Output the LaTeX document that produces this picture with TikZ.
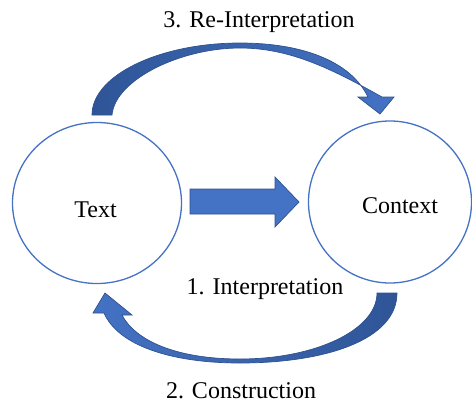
\documentclass[tikz,border=0pt]{standalone}
\usepackage{fontspec}
\setmainfont{Liberation Serif}
\usetikzlibrary{shapes.geometric}
\definecolor{ringblue}{HTML}{4472C4}
\definecolor{edgeblue}{HTML}{2F528F}
\definecolor{arrdark}{HTML}{2F5597}
\definecolor{arrlight}{HTML}{4472C4}
\begin{document}
\begin{tikzpicture}[x=1pt,y=-1pt,
  ring/.style={ellipse, draw=ringblue, line width=1.3pt, inner sep=0pt},
  lbl/.style={inner sep=0pt, anchor=base, font=\fontsize{24}{28}\selectfont},
  blockarrow/.style={draw=edgeblue, line width=0.7pt, line join=miter}]
\useasboundingbox (0,0) rectangle (472,405);

% circles
\node[ring, minimum width=169pt, minimum height=161pt] (text) at (97,203) {};
\node[ring, minimum width=163pt, minimum height=162pt] (context) at (390,202) {};

% labels
\node[lbl] (ltext) at (95.5,217) {Text};
\node[lbl] (lcontext) at (400,213) {Context};
\node[lbl] (l3) at (259,27) {3. Re-Interpretation};
\node[lbl] (l1) at (265,294) {1. Interpretation};
\node[lbl] (l2) at (241,398) {2. Construction};

% straight block arrow
\fill[blockarrow, fill=arrlight]
  (190,189) -- (275,189) -- (275,177) -- (299,202) -- (275,227) -- (275,214) -- (190,214) -- cycle;

% top curved arrow
\shadedraw[blockarrow, left color=arrdark, right color=arrlight]
  (92,115) .. controls (92,75) and (160,43) .. (240,43)
  .. controls (300,43) and (350,60) .. (368,97)
  -- (358,97) -- (380,114) -- (394,97) -- (382,97)
  .. controls (332,69) and (290,48) .. (240,48)
  .. controls (180,48) and (115,80) .. (112,115) -- cycle;

% bottom curved arrow
\shadedraw[blockarrow, left color=arrlight, right color=arrdark]
  (377,293) -- (397,293) .. controls (397,340) and (325,363) .. (240,363)
  .. controls (170,363) and (118,345) .. (104,313)
  -- (93,313) -- (105,293) -- (132,315) -- (122,315)
  .. controls (135,340) and (175,359) .. (240,359)
  .. controls (315,359) and (377,330) .. (377,293) -- cycle;
\end{tikzpicture}
\end{document}
